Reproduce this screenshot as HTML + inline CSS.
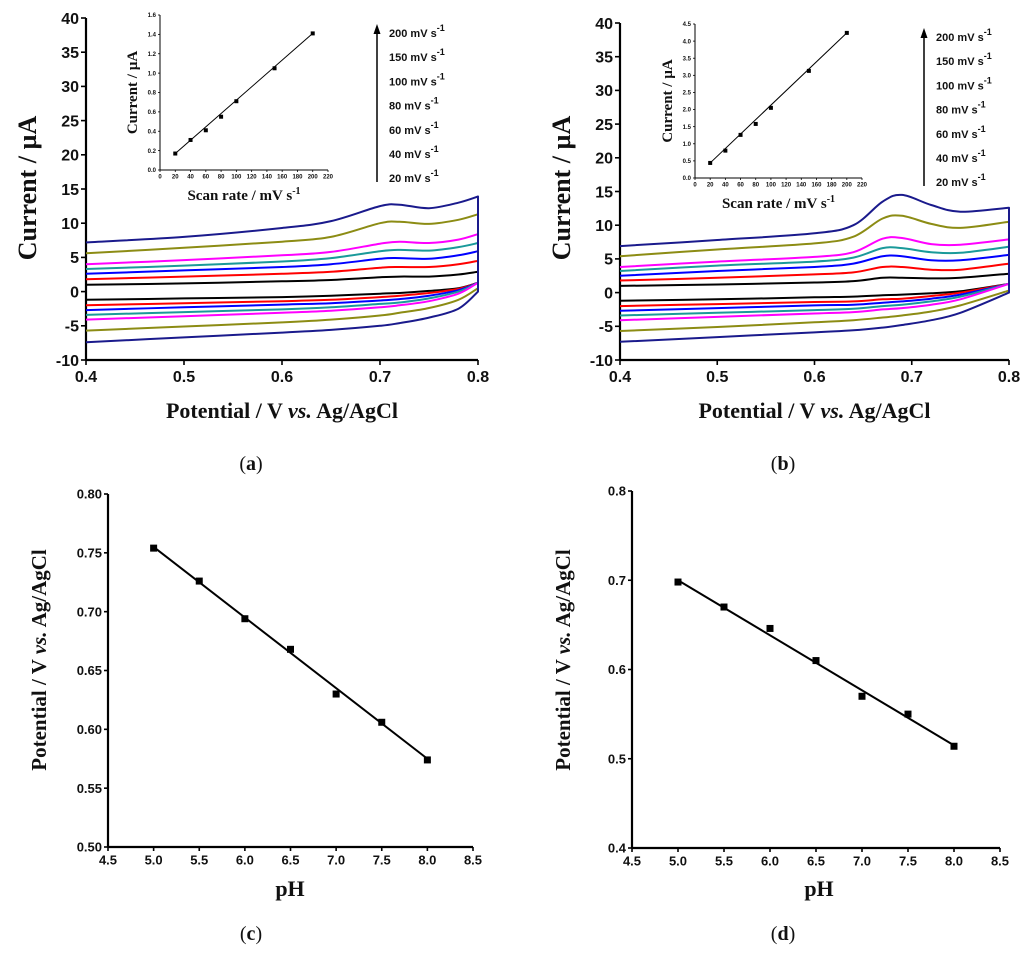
<!DOCTYPE html>
<html><head><meta charset="utf-8"><style>
html,body{margin:0;padding:0;background:#fff;}
svg{display:block;}
text{font-family:"Liberation Sans",Arial,sans-serif;font-weight:bold;fill:#111;}
.serif{font-family:"Liberation Serif","Times New Roman",serif;}
</style></head><body>
<svg id="fig" width="1024" height="959" viewBox="0 0 1024 959"></svg>
<script>
// ---- CV data (panel a) ----
const cvPotA = [0.40,0.50,0.60,0.65,0.70,0.72,0.75,0.78,0.80];
const anodicA = [
 [1.0,1.2,1.5,1.7,2.1,2.2,2.2,2.5,2.9],
 [1.8,2.2,2.6,2.9,3.5,3.6,3.6,4.0,4.5],
 [2.6,3.1,3.6,4.0,4.8,4.9,4.8,5.3,5.9],
 [3.3,3.8,4.4,4.9,5.9,6.1,6.0,6.5,7.1],
 [4.0,4.6,5.3,5.8,7.0,7.3,7.1,7.6,8.4],
 [5.6,6.4,7.3,8.0,10.0,10.2,9.9,10.5,11.3],
 [7.2,8.0,9.3,10.3,12.5,12.7,12.2,13.0,13.9]];
const cathodicA = [
 [-1.2,-1.0,-0.8,-0.6,-0.3,-0.2,0.1,0.5,1.3],
 [-2.0,-1.7,-1.4,-1.2,-0.8,-0.6,-0.2,0.4,1.3],
 [-2.7,-2.3,-1.9,-1.7,-1.3,-1.1,-0.6,0.2,1.3],
 [-3.4,-3.0,-2.6,-2.3,-1.8,-1.6,-1.0,0.0,1.3],
 [-4.1,-3.6,-3.1,-2.8,-2.3,-2.0,-1.4,-0.3,1.3],
 [-5.7,-5.1,-4.5,-4.1,-3.5,-3.1,-2.4,-1.2,0.5],
 [-7.4,-6.7,-6.0,-5.6,-5.0,-4.6,-3.8,-2.5,0.0]];
// ---- CV data (panel b) ----
const cvPotB = [0.40,0.50,0.60,0.64,0.67,0.69,0.72,0.75,0.80];
const anodicB = [
 [1.0,1.2,1.5,1.7,2.2,2.2,2.1,2.2,2.8],
 [1.8,2.2,2.7,3.0,3.8,3.8,3.4,3.4,4.3],
 [2.5,3.2,3.8,4.3,5.4,5.4,4.8,4.8,5.6],
 [3.2,4.0,4.6,5.2,6.6,6.6,6.0,5.9,6.8],
 [3.8,4.6,5.3,6.0,8.0,8.1,7.2,7.1,7.9],
 [5.4,6.4,7.3,8.3,11.0,11.4,10.2,9.6,10.5],
 [6.9,7.8,8.8,10.0,13.5,14.5,13.0,12.0,12.6]];
const cathodicB = [
 [-1.2,-1.0,-0.7,-0.6,-0.4,-0.3,-0.1,0.2,1.3],
 [-2.0,-1.7,-1.4,-1.3,-1.0,-0.9,-0.5,0.0,1.3],
 [-2.7,-2.3,-1.9,-1.8,-1.5,-1.3,-0.9,-0.3,1.3],
 [-3.4,-3.0,-2.6,-2.4,-2.0,-1.8,-1.3,-0.6,1.3],
 [-4.1,-3.6,-3.1,-2.9,-2.5,-2.3,-1.8,-1.0,1.3],
 [-5.7,-5.1,-4.4,-4.1,-3.7,-3.4,-2.8,-1.9,0.3],
 [-7.3,-6.6,-5.9,-5.6,-5.2,-4.8,-4.1,-3.0,0.0]];
const cvColors = ["#000000","#ff0000","#0000ff","#1a9a9a","#ff00ff","#8c8c14","#1a1a8c"];
const cvYTicks = [-10,-5,0,5,10,15,20,25,30,35,40];
const cvXTicks = [0.4,0.5,0.6,0.7,0.8];
const scanLabels = ["200","150","100","80","60","40","20"];
// ---- insets ----
const scanRates = [20,40,60,80,100,150,200];
const insetA = [0.17,0.31,0.41,0.55,0.71,1.05,1.41];
const insetB = [0.44,0.80,1.26,1.58,2.05,3.13,4.24];
const insetXTicks = [0,20,40,60,80,100,120,140,160,180,200,220];
const insetYTicksA = [0.0,0.2,0.4,0.6,0.8,1.0,1.2,1.4,1.6];
const insetYTicksB = [0.0,0.5,1.0,1.5,2.0,2.5,3.0,3.5,4.0,4.5];
// ---- pH data ----
const pHvals = [5.0,5.5,6.0,6.5,7.0,7.5,8.0];
const potC = [0.754,0.726,0.694,0.668,0.630,0.606,0.574];
const potD = [0.698,0.670,0.646,0.610,0.570,0.550,0.514];
const fitC = [0.755,0.575];
const fitD = [0.700,0.515];
const pHTicks = [4.5,5.0,5.5,6.0,6.5,7.0,7.5,8.0,8.5];
const cTicks = [0.50,0.55,0.60,0.65,0.70,0.75,0.80];
const dTicks = [0.4,0.5,0.6,0.7,0.8];

const svg = document.getElementById('fig');
const NS = 'http://www.w3.org/2000/svg';
function mk(tag, attrs, parent){const e=document.createElementNS(NS,tag);for(const k in attrs)e.setAttribute(k,attrs[k]);(parent||svg).appendChild(e);return e;}
function txt(s,x,y,size,anchor,parent,cls){const t=mk('text',{x:x,y:y,'font-size':size,'text-anchor':anchor||'middle'},parent);if(cls)t.setAttribute('class',cls);t.textContent=s;return t;}
function scale(d0,d1,r0,r1){return v=>r0+(v-d0)/(d1-d0)*(r1-r0);}
function smooth(p){ // catmull-rom through points
  let d='M'+p[0][0].toFixed(1)+','+p[0][1].toFixed(1);
  for(let i=0;i<p.length-1;i++){
    const p0=p[i-1]||p[i],p1=p[i],p2=p[i+1],p3=p[i+2]||p2;
    const c1=[p1[0]+(p2[0]-p0[0])/6,p1[1]+(p2[1]-p0[1])/6];
    const c2=[p2[0]-(p3[0]-p1[0])/6,p2[1]-(p3[1]-p1[1])/6];
    d+=' C'+c1[0].toFixed(1)+','+c1[1].toFixed(1)+' '+c2[0].toFixed(1)+','+c2[1].toFixed(1)+' '+p2[0].toFixed(1)+','+p2[1].toFixed(1);
  }
  return d;
}

function axes(g,X,Y,xt,yt,x0,x1,y0,y1,fs,fmtX,fmtY,tl){
  mk('line',{x1:X(x0),y1:Y(y0),x2:X(x1),y2:Y(y0),stroke:'#000','stroke-width':fs>10?2.2:1},g);
  mk('line',{x1:X(x0),y1:Y(y0),x2:X(x0),y2:Y(y1),stroke:'#000','stroke-width':fs>10?2.2:1},g);
  xt.forEach(v=>{mk('line',{x1:X(v),y1:Y(y0),x2:X(v),y2:Y(y0)+tl,stroke:'#000','stroke-width':fs>10?1.6:0.8},g);
    txt(fmtX(v),X(v),Y(y0)+tl+fs*1.05,fs,'middle',g);});
  yt.forEach(v=>{mk('line',{x1:X(x0),y1:Y(v),x2:X(x0)-tl,y2:Y(v),stroke:'#000','stroke-width':fs>10?1.6:0.8},g);
    txt(fmtY(v),X(x0)-tl-2,Y(v)+fs*0.36,fs,'end',g);});
}

function cvPanel(name,xl,xr,yt,yb,pot,an,ca,ins,insBox,insTicks,insMax,legX,legTop){
  const g=mk('g',{});  
  const X=scale(0.4,0.8,xl,xr), Y=scale(-10,40,yb,yt);
  axes(g,X,Y,cvXTicks,cvYTicks,0.4,0.8,-10,40,16,v=>v.toFixed(1),v=>String(v),5);
  for(let i=0;i<an.length;i++){
    const ap=pot.map((p,j)=>[X(p),Y(an[i][j])]);
    const cp=pot.map((p,j)=>[X(p),Y(ca[i][j])]).reverse();
    let d=smooth(ap)+' L'+cp[0][0].toFixed(1)+','+cp[0][1].toFixed(1)+' '+smooth(cp).replace(/^M/,'L');
    const pl=mk('path',{d:d,fill:'none',stroke:cvColors[i],'stroke-width':2,'stroke-linejoin':'round'},g);
    
    
  }
  const [ix0,ix1,iy0,iy1]=insBox;
  const IX=scale(0,220,ix0,ix1), IY=scale(0,insMax,iy0,iy1);
  const ig=mk('g',{},g);  
  axes(ig,IX,IY,insetXTicks,insTicks,0,220,0,insMax,6,v=>String(v),v=>v.toFixed(1),2);
  const fl=mk('line',{x1:IX(scanRates[0]),y1:IY(ins[0]),x2:IX(scanRates[6]),y2:IY(ins[6]),stroke:'#000','stroke-width':1},ig);
   
  scanRates.forEach((s,i)=>{const r=mk('rect',{x:IX(s)-2,y:IY(ins[i])-2,width:4,height:4,fill:'#000'},ig);
     });
  const yl=txt('Current / µA',0,0,15,'middle',ig,'serif');
  yl.setAttribute('transform','translate('+(ix0-23)+','+((iy0+iy1)/2)+') rotate(-90)');
   
  const xl2=txt('',(ix0+ix1)/2,iy0+30,15,'middle',ig,'serif');
  xl2.innerHTML='Scan rate / mV s<tspan dy="-6" font-size="10">-1</tspan>';
   
  mk('line',{x1:legX,y1:legTop+156,x2:legX,y2:legTop+6,stroke:'#000','stroke-width':1.5},g);
  mk('polygon',{points:(legX-3.5)+','+(legTop+8)+' '+(legX+3.5)+','+(legTop+8)+' '+legX+','+(legTop-2),fill:'#000'},g);
  scanLabels.forEach((s,i)=>{const t=txt('',legX+12,legTop+11+i*24.2,11,'start',g);
    t.innerHTML=s+' mV s<tspan dy="-6" font-size="9">-1</tspan>';
     });
  const xt=txt('',(xl+xr)/2,418,22,'middle',g,'serif');
  xt.innerHTML='Potential / V <tspan font-style="italic">vs.</tspan> Ag/AgCl';
   
  const yt2=txt('Current / µA',0,0,26,'middle',g,'serif');
  yt2.setAttribute('transform','translate('+(xl-50)+',188) rotate(-90)');
   
}
cvPanel('panel-a',86,478,18,360,cvPotA,anodicA,cathodicA,insetA,[160,328,170,15],insetYTicksA,1.6,377,26);
cvPanel('panel-b',620,1009,23,360,cvPotB,anodicB,cathodicB,insetB,[695,862,178,24],insetYTicksB,4.5,924,30);

function phPanel(name,xl,xr,yt,yb,ymin,ymax,ticks,vals,fit,dec,titleX){
  const g=mk('g',{});  
  const X=scale(4.5,8.5,xl,xr), Y=scale(ymin,ymax,yb,yt);
  axes(g,X,Y,pHTicks,ticks,4.5,8.5,ymin,ymax,13,v=>v.toFixed(1),v=>v.toFixed(dec),4);
  const fl=mk('line',{x1:X(pHvals[0]),y1:Y(fit[0]),x2:X(pHvals[6]),y2:Y(fit[1]),stroke:'#000','stroke-width':2},g);
   
  pHvals.forEach((p,i)=>{const r=mk('rect',{x:X(p)-3.5,y:Y(vals[i])-3.5,width:7,height:7,fill:'#000'},g);
     });
  const xt=txt('pH',titleX,896,22,'middle',g,'serif');
   
  const yt2=txt('',0,0,21,'middle',g,'serif');
  yt2.innerHTML='Potential / V <tspan font-style="italic">vs.</tspan> Ag/AgCl';
  yt2.setAttribute('transform','translate('+(xl-62)+',660) rotate(-90)');
   
}
phPanel('panel-c',108,473,494,847,0.50,0.80,cTicks,potC,fitC,2,290);
phPanel('panel-d',632,1000,491,848,0.4,0.8,dTicks,potD,fitD,1,819);

[['(a)',251,470],['(b)',783,470],['(c)',251,940],['(d)',783,940]].forEach(a=>{
  const t=txt('',a[1],a[2],20,'middle',null,'serif');
  t.innerHTML='<tspan font-weight="normal">(</tspan>'+a[0][1]+'<tspan font-weight="normal">)</tspan>';
   
});
</script>
</body></html>
